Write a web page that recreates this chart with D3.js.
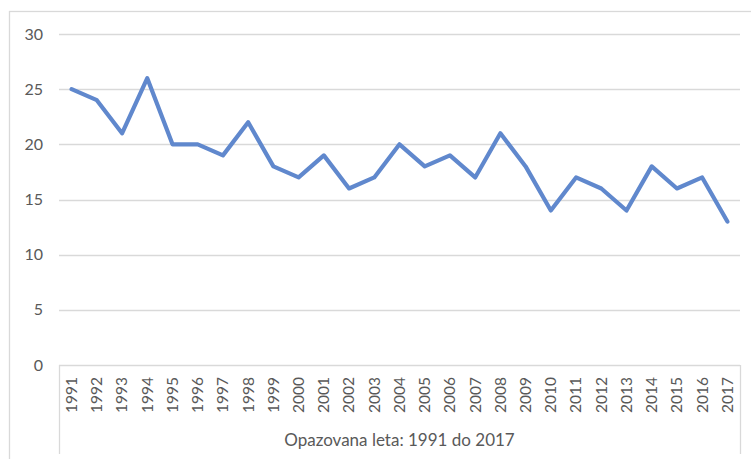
<!DOCTYPE html>
<html>
<head>
<meta charset="utf-8">
<script src="https://cdn.jsdelivr.net/npm/d3@7"></script>
<style>
  body { margin: 0; background: #fff; }
  text { font-family: Lato, "Open Sans", sans-serif; fill: #595959; }
</style>
</head>
<body>
<svg id="chart" width="751" height="459"></svg>
<script>
const years = ["1991","1992","1993","1994","1995","1996","1997","1998","1999","2000",
  "2001","2002","2003","2004","2005","2006","2007","2008","2009","2010",
  "2011","2012","2013","2014","2015","2016","2017"];
const values = [25, 24, 21, 26, 20, 20, 19, 22, 18, 17,
  19, 16, 17, 20, 18, 19, 17, 21, 18, 14,
  17, 16, 14, 18, 16, 17, 13];
const yTicks = [0, 5, 10, 15, 20, 25, 30];
const axisTitle = "Opazovana leta: 1991 do 2017";

const svg = d3.select("svg#chart");

// outer chart frame (right/bottom run off the picture)
svg.append("rect")
  .attr("x", 9.5).attr("y", 11.5)
  .attr("width", 800).attr("height", 500)
  .attr("fill", "none")
  .attr("stroke", "#d9d9d9")
  .attr("stroke-width", 1.3);

const plotLeft = 59, plotRight = 740, plotTop = 34, plotBottom = 365;

const x = d3.scaleBand()
  .domain(years)
  .range([plotLeft, plotRight]);

const y = d3.scaleLinear()
  .domain([0, 30])
  .range([plotBottom, plotTop]);

// gridlines
svg.append("g")
  .selectAll("line")
  .data(yTicks)
  .join("line")
  .attr("x1", plotLeft).attr("x2", plotRight)
  .attr("y1", d => Math.round(y(d)) + 0.5)
  .attr("y2", d => Math.round(y(d)) + 0.5)
  .attr("stroke", "#d9d9d9")
  .attr("stroke-width", 1.3);

// y labels
svg.append("g")
  .selectAll("text")
  .data(yTicks)
  .join("text")
  .attr("x", 43)
  .attr("y", d => y(d))
  .attr("dy", "0.35em")
  .attr("text-anchor", "end")
  .style("font-size", "16px")
  .text(d => d);

// category box
svg.append("g")
  .selectAll("line")
  .data([plotLeft, plotRight])
  .join("line")
  .attr("x1", d => d + 0.5).attr("x2", d => d + 0.5)
  .attr("y1", plotBottom).attr("y2", 454)
  .attr("stroke", "#d9d9d9")
  .attr("stroke-width", 1.3);

// year labels
svg.append("g")
  .selectAll("text")
  .data(years)
  .join("text")
  .attr("transform", d => "translate(" + (x(d) + x.bandwidth() / 2) + ",377) rotate(-90)")
  .attr("dy", "0.35em")
  .attr("text-anchor", "end")
  .style("font-size", "15.5px")
  .text(d => d);

svg.append("text")
  .attr("x", (plotLeft + plotRight) / 2)
  .attr("y", 446)
  .attr("text-anchor", "middle")
  .style("font-size", "17px")
  .text(axisTitle);

// line
const line = d3.line()
  .x((d, i) => x(years[i]) + x.bandwidth() / 2)
  .y(d => y(d));

svg.append("path")
  .datum(values)
  .attr("d", line)
  .attr("fill", "none")
  .attr("stroke", "#6088cd")
  .attr("stroke-width", 4.2)
  .attr("stroke-linejoin", "round")
  .attr("stroke-linecap", "round");
</script>
</body>
</html>
